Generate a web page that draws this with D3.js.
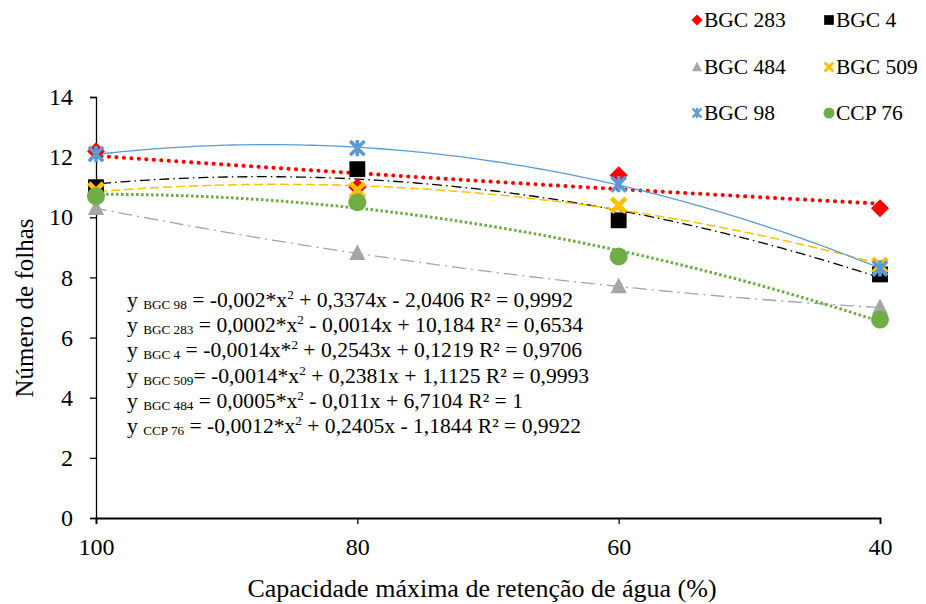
<!DOCTYPE html>
<html>
<head>
<meta charset="utf-8">
<script src="https://cdn.jsdelivr.net/npm/d3@7"></script>
<style>
  body { margin: 0; background: #fff; }
  svg text { font-family: "Liberation Serif", "Times New Roman", Times, "DejaVu Serif", serif; fill: #000; }
</style>
</head>
<body>
<svg id="chart" width="926" height="604"></svg>
<script>
// water retention levels (x) and leaf counts per genotype
var levels = [100, 80, 60, 40];
var bgc283 = [12.2, 11.0, 11.4, 10.3];
var bgc4 = [11.0, 11.6, 9.9, 8.1];
var bgc484 = [10.3, 8.8, 7.7, 7.0];
var bgc509 = [10.9, 10.9, 10.4, 8.4];
var bgc98 = [12.1, 12.3, 11.1, 8.3];
var ccp76 = [10.7, 10.5, 8.7, 6.6];
var yTicks = [0, 2, 4, 6, 8, 10, 12, 14];

var equations = [
  ["BGC 98", " = -0,002*x", "2", " + 0,3374x - 2,0406 R² = 0,9992"],
  ["BGC 283", " = 0,0002*x", "2", " - 0,0014x + 10,184 R² = 0,6534"],
  ["BGC 4", " = -0,0014x*", "2", " + 0,2543x + 0,1219 R² = 0,9706"],
  ["BGC 509", "= -0,0014*x", "2", " + 0,2381x + 1,1125 R² = 0,9993"],
  ["BGC 484", " = 0,0005*x", "2", " - 0,011x + 6,7104 R² = 1"],
  ["CCP 76", " = -0,0012*x", "2", " + 0,2405x - 1,1844 R² = 0,9922"]
];

var series = [
  {name: "BGC 283", values: bgc283, color: "#FF0000", marker: "diamond", width: 4, dash: "0.1 7.4", cap: "round"},
  {name: "BGC 4", values: bgc4, color: "#000000", marker: "square", width: 1.3, dash: "10 4 1.5 4", cap: "butt"},
  {name: "BGC 484", values: bgc484, color: "#A5A5A5", marker: "triangle", width: 1.3, dash: "14 5 2 5", cap: "butt"},
  {name: "BGC 509", values: bgc509, color: "#FFC000", marker: "cross", width: 1.5, dash: "9 4", cap: "butt"},
  {name: "BGC 98", values: bgc98, color: "#5B9BD5", marker: "star", width: 1.3, dash: null, cap: "butt"},
  {name: "CCP 76", values: ccp76, color: "#70AD47", marker: "circle", width: 3, dash: "2.6 2.4", cap: "butt"}
];

var svg = d3.select("#chart");
var MARGINS = {top: 97, right: 46, bottom: 86, left: 96};
var WIDTH = 926, HEIGHT = 604;

var xScale = d3.scaleLinear().domain([100, 40]).range([MARGINS.left, WIDTH - MARGINS.right]);
var yScale = d3.scaleLinear().domain([0, 14]).range([HEIGHT - MARGINS.bottom, MARGINS.top]);

// axes
var yAxis = d3.axisLeft(yScale).tickValues(yTicks).tickSize(6).tickPadding(17);
var xAxis = d3.axisBottom(xScale).tickValues(levels).tickSize(6).tickPadding(14);

var gy = svg.append("g").attr("transform", "translate(" + MARGINS.left + ",0)").call(yAxis);
var gx = svg.append("g").attr("transform", "translate(0," + (HEIGHT - MARGINS.bottom) + ")").call(xAxis);
[gx, gy].forEach(function (g) {
  g.attr("font-family", null).attr("font-size", null);
  g.selectAll("path").attr("stroke", "#000").attr("stroke-width", 1.3);
  g.selectAll("line").attr("stroke", "#000").attr("stroke-width", 1.3);
  g.selectAll("text").style("font-size", "24px").attr("fill", "#000");
});
gx.select(".domain").attr("stroke-width", 1.8);

// quadratic least-squares trendline (like a spreadsheet polynomial trendline)
function fitQuadratic(xs, ys) {
  var n = xs.length, s = [0, 0, 0, 0, 0], t = [0, 0, 0];
  for (var i = 0; i < n; i++) {
    for (var k = 0; k < 5; k++) s[k] += Math.pow(xs[i], k);
    for (var k2 = 0; k2 < 3; k2++) t[k2] += ys[i] * Math.pow(xs[i], k2);
  }
  var A = [[s[0], s[1], s[2], t[0]], [s[1], s[2], s[3], t[1]], [s[2], s[3], s[4], t[2]]];
  for (var c = 0; c < 3; c++) {
    for (var r = c + 1; r < 3; r++) {
      var f = A[r][c] / A[c][c];
      for (var j = c; j < 4; j++) A[r][j] -= f * A[c][j];
    }
  }
  var coef = [0, 0, 0];
  for (var r2 = 2; r2 >= 0; r2--) {
    var sum = A[r2][3];
    for (var j2 = r2 + 1; j2 < 3; j2++) sum -= A[r2][j2] * coef[j2];
    coef[r2] = sum / A[r2][r2];
  }
  return function (x) { return coef[0] + coef[1] * x + coef[2] * x * x; };
}

var lineFunc = d3.line()
  .x(function (d) { return xScale(d.x); })
  .y(function (d) { return yScale(d.y); });

var samples = d3.range(40, 100.5, 0.5);

series.forEach(function (s) {
  var fn = fitQuadratic(levels, s.values);
  var pts = samples.map(function (x) { return {x: x, y: fn(x)}; });
  svg.append("path")
    .attr("d", lineFunc(pts))
    .attr("fill", "none")
    .attr("stroke", s.color)
    .attr("stroke-width", s.width)
    .attr("stroke-dasharray", s.dash)
    .attr("stroke-linecap", s.cap);
});

function drawMarker(g, type, color, cx, cy, size) {
  var h = size / 2;
  if (type === "diamond") {
    g.append("path").attr("d", "M" + cx + "," + (cy - h) + "L" + (cx + h) + "," + cy + "L" + cx + "," + (cy + h) + "L" + (cx - h) + "," + cy + "Z").attr("fill", color);
  } else if (type === "square") {
    g.append("rect").attr("x", cx - h * 0.88).attr("y", cy - h * 0.88).attr("width", h * 1.76).attr("height", h * 1.76).attr("fill", color);
  } else if (type === "triangle") {
    g.append("path").attr("d", "M" + cx + "," + (cy - h) + "L" + (cx + h * 0.9) + "," + (cy + h * 0.75) + "L" + (cx - h * 0.9) + "," + (cy + h * 0.75) + "Z").attr("fill", color);
  } else if (type === "circle") {
    g.append("circle").attr("cx", cx).attr("cy", cy).attr("r", h).attr("fill", color);
  } else if (type === "cross") {
    var d = h * 0.8;
    g.append("path").attr("d", "M" + (cx - d) + "," + (cy - d) + "L" + (cx + d) + "," + (cy + d) + "M" + (cx + d) + "," + (cy - d) + "L" + (cx - d) + "," + (cy + d))
      .attr("stroke", color).attr("stroke-width", size * 0.26).attr("fill", "none");
  } else if (type === "star") {
    var d2 = h * 0.8;
    g.append("path").attr("d", "M" + (cx - d2) + "," + (cy - d2) + "L" + (cx + d2) + "," + (cy + d2) + "M" + (cx + d2) + "," + (cy - d2) + "L" + (cx - d2) + "," + (cy + d2) + "M" + cx + "," + (cy - h * 0.9) + "L" + cx + "," + (cy + h * 0.9))
      .attr("stroke", color).attr("stroke-width", size * 0.2).attr("fill", "none");
  }
}

// data markers
series.forEach(function (s) {
  var g = svg.append("g");
  s.values.forEach(function (v, i) {
    drawMarker(g, s.marker, s.color, xScale(levels[i]), yScale(v), 18);
  });
});

// legend
var legendCols = [697, 829];
var legendRows = [20, 67, 113];
series.forEach(function (s, i) {
  var lx = legendCols[i % 2], ly = legendRows[Math.floor(i / 2)];
  var g = svg.append("g");
  drawMarker(g, s.marker, s.color, lx, ly, 11);
  g.append("text").attr("x", lx + 7).attr("y", ly + 7).style("font-size", "21.5px").text(s.name);
});

// regression equations
var eqStart = 301;
equations.forEach(function (e, i) {
  var t = svg.append("text").attr("x", 127).attr("y", eqStart + i * 25.2 + 6).style("font-size", "21.6px");
  t.append("tspan").text("y ");
  t.append("tspan").style("font-size", "13.2px").attr("dy", 2).text(e[0]);
  t.append("tspan").attr("dy", -2).text(e[1]);
  t.append("tspan").style("font-size", "13.2px").attr("dy", -8).text(e[2]);
  t.append("tspan").attr("dy", 8).text(e[3]);
});

// axis titles
svg.append("text")
  .attr("x", 482)
  .attr("y", 597)
  .attr("text-anchor", "middle")
  .style("font-size", "26px")
  .text("Capacidade máxima de retenção de água (%)");

svg.append("text")
  .attr("transform", "translate(33," + 308 + ") rotate(-90)")
  .attr("text-anchor", "middle")
  .style("font-size", "25px")
  .text("Número de folhas");
</script>
</body>
</html>
